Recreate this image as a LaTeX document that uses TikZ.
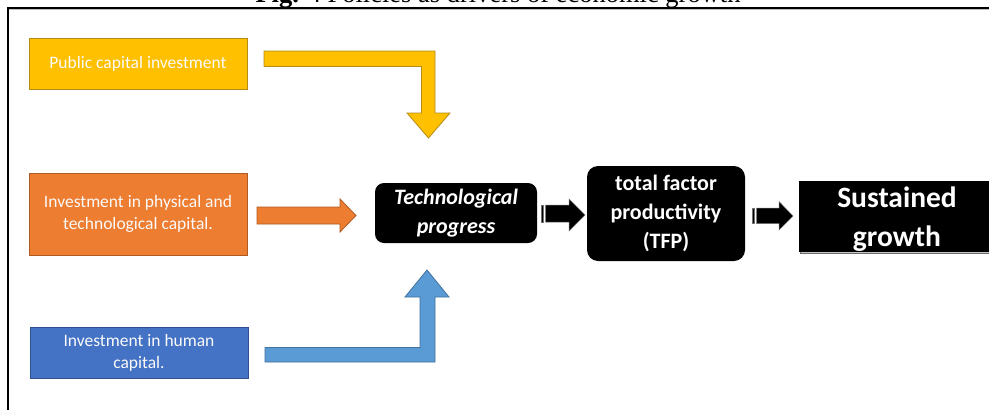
\documentclass[tikz,border=0pt]{standalone}
\usepackage{fontspec}
\setmainfont{Carlito}
\newfontfamily\capfont{Liberation Serif}
\usepackage{tikz}
\definecolor{Ylw}{RGB}{255,192,0}
\definecolor{YlwEdge}{RGB}{180,140,20}
\definecolor{Orng}{RGB}{237,125,49}
\definecolor{OrngEdge}{RGB}{174,90,33}
\definecolor{Blu}{RGB}{68,114,196}
\definecolor{BluEdge}{RGB}{47,82,143}
\definecolor{LtBlu}{RGB}{91,155,213}
\definecolor{LtBluEdge}{RGB}{65,113,156}
\usetikzlibrary{shadows}

\tikzset{
  inbox/.style={draw=#1Edge, fill=#1, line width=0.9pt, minimum width=218pt,
                inner sep=0pt, align=center, text=white!96!gray,
                font=\fontsize{17.5}{22}\selectfont},
  blkbox/.style={fill=black, inner sep=0pt, align=center, text=white,
                 font=\bfseries\fontsize{22}{29}\selectfont},
  blkarrow/.style={fill=black, draw=black!55, line width=0.5pt},
}

\begin{document}
\begin{tikzpicture}[x=1pt, y=-1pt]
    \clip (0,0) rectangle (989,410);
    \fill[white] (0,0) rectangle (989,410);
    % caption, cut at the top
    \node[anchor=base, font=\capfont\fontsize{26.5}{30}\selectfont] (cap) at (498,2.5)
            {\textbf{Fig.} 4 Policies as drivers of economic growth};
    \draw[line width=1.5pt] (8,410) -- (8,8) -- (995,8);
    \draw[black!25, line width=0.6pt] (9,9.6) -- (995,9.6);

    % inputs
    \node[inbox=Ylw, minimum height=51pt] (pub) at (138,63.5)
            {Public capital investment};
    \node[inbox=Orng, minimum height=82pt] (phys) at (138,214)
            {Investment in physical and\\technological capital.};
    \node[inbox=Blu, minimum height=51pt] (human) at (139,352.5)
            {Investment in human\\capital.};

    % chain
    \node[blkbox, rounded corners=9pt, minimum width=162pt, minimum height=60pt,
          font=\bfseries\itshape\fontsize{22}{29}\selectfont] (tech) at (456,213)
            {Technological\\progress};
    \node[blkbox, rounded corners=11pt, minimum width=158pt, minimum height=95pt]
          (tfp) at (666,213.5) {total factor\\productivity\\(TFP)};
    \node[blkbox, minimum width=196pt, minimum height=71pt,
          copy shadow={fill=gray, opacity=0.45, shadow xshift=0.8pt, shadow yshift=-1.6pt}]
          (sus) at (897,216.5) {};
    \node[blkbox, fill=none, font=\bfseries\fontsize{29.5}{39}\selectfont]
          (sustxt) at ([yshift=-3pt]sus.center) {Sustained\\growth};

    % block arrows
    \filldraw[fill=Ylw, draw=YlwEdge, line width=0.8pt]
        (264,51) -- (435,51) -- (435,113) -- (450,113) -- (428.5,138)
        -- (407,113) -- (421.5,113) -- (421.5,66.5) -- (264,66.5) -- cycle;
    \filldraw[fill=Orng, draw=OrngEdge, line width=0.8pt]
        (257,207) -- (340,207) -- (340,199) -- (356,215.5) -- (340,232)
        -- (340,224) -- (257,224) -- cycle;
    \filldraw[fill=LtBlu, draw=LtBluEdge, line width=0.8pt]
        (265,347.5) -- (420,347.5) -- (420,297) -- (405,297) -- (427,270)
        -- (449,297) -- (435,297) -- (435,362) -- (265,362) -- cycle;

    \filldraw[blkarrow] (541,205) rectangle (543,222);
    \filldraw[blkarrow] (545.5,205) -- (569,205) -- (569,199) -- (585,215)
        -- (569,231) -- (569,222) -- (545.5,222) -- cycle;
    \filldraw[blkarrow] (752,208) rectangle (754,223.5);
    \filldraw[blkarrow] (756.5,208) -- (779,208) -- (779,201.5) -- (793,216)
        -- (779,230) -- (779,223.5) -- (756.5,223.5) -- cycle;
\end{tikzpicture}
\end{document}
